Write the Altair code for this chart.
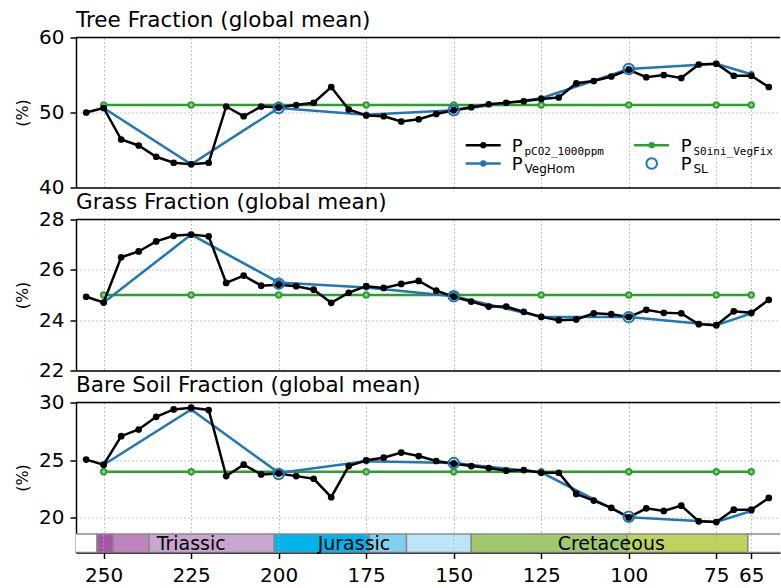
import altair as alt
import pandas as pd

# ---------------- data ----------------
ages_all = [255, 250, 245, 240, 235, 230, 225, 220, 215, 210, 205, 200, 195, 190,
            185, 180, 175, 170, 165, 160, 155, 150, 145, 140, 135, 130, 125, 120,
            115, 110, 105, 100, 95, 90, 85, 80, 75, 70, 65, 60]

tree_pco2 = [50.0, 50.6, 46.4, 45.6, 44.1, 43.3, 43.1, 43.3, 50.8, 49.5, 50.8, 50.7,
             51.0, 51.3, 53.4, 50.4, 49.6, 49.5, 48.8, 49.1, 49.8, 50.3, 50.7, 51.1,
             51.3, 51.5, 51.8, 52.0, 53.9, 54.2, 54.8, 55.7, 54.7, 55.0, 54.6, 56.4,
             56.5, 54.9, 54.9, 53.4]
grass_pco2 = [24.93, 24.70, 26.50, 26.73, 27.13, 27.35, 27.40, 27.33, 25.48, 25.77,
              25.37, 25.41, 25.35, 25.21, 24.69, 25.09, 25.35, 25.28, 25.44, 25.56,
              25.17, 24.93, 24.74, 24.54, 24.54, 24.33, 24.13, 24.00, 24.03, 24.27,
              24.24, 24.13, 24.41, 24.29, 24.27, 23.84, 23.80, 24.35, 24.29, 24.81]
bare_pco2 = [25.05, 24.61, 27.08, 27.66, 28.76, 29.40, 29.55, 29.35, 23.62, 24.61,
             23.77, 23.85, 23.62, 23.39, 21.79, 24.49, 24.99, 25.22, 25.66, 25.36,
             24.93, 24.70, 24.49, 24.32, 24.09, 24.14, 23.91, 23.91, 22.08, 21.50,
             20.86, 20.04, 20.83, 20.60, 21.06, 19.70, 19.64, 20.71, 20.71, 21.73]

ages_exp = [250, 225, 200, 175, 150, 125, 100, 75, 65]
tree_veghom = [50.6, 43.1, 50.6, 49.7, 50.3, 51.9, 55.8, 56.5, 55.1]
grass_veghom = [24.70, 27.40, 25.50, 25.30, 24.95, 24.13, 24.13, 23.80, 24.27]
bare_veghom = [24.6, 29.4, 23.9, 24.9, 24.75, 23.95, 20.05, 19.64, 20.6]

tree_vegfix = [51.0, 51.0, 51.0, 51.0, 51.0, 51.0, 51.0, 51.0, 51.0]
grass_vegfix = [25.0, 25.0, 25.0, 25.0, 25.0, 25.0, 25.0, 25.0, 25.0]
bare_vegfix = [24.0, 24.0, 24.0, 24.0, 24.0, 24.0, 24.0, 24.0, 24.0]

ages_sl = [200, 150, 100]
tree_sl = [50.6, 50.3, 55.8]
grass_sl = [25.45, 24.95, 24.12]
bare_sl = [23.8, 24.75, 20.1]

x_ticks = [250, 225, 200, 175, 150, 125, 100, 75, 65]

geo_start = [260, 251.9, 247.2, 237.0, 201.3, 174.1, 163.5, 145.0, 100.5, 66.0]
geo_end = [251.9, 247.2, 237.0, 201.3, 174.1, 163.5, 145.0, 100.5, 66.0, 50.0]
geo_color = ["#ffffff", "#a657a4", "#bd84bd", "#c9a6cf", "#00b4eb", "#80cfee",
             "#bde4f8", "#a0c86e", "#bdd35e", "#ffffff"]
geo_label = ["Triassic", "Jurassic", "Cretaceous"]
geo_label_age = [225, 178.5, 105]

# ---------------- styling ----------------
FONT = "DejaVu Sans"
MONO = "DejaVu Sans Mono"
BLACK = "#000000"
BLUE = "#1f77b4"
GREEN = "#2ca02c"
W = 704
XDOM = [257.9, 56.8]

one = alt.Data(values=[{"a": 1}])


def top_border(w):
    return alt.Chart(one).mark_rule(color="black", strokeWidth=1.5).encode(
        x=alt.value(0), x2=alt.value(w), y=alt.value(0))


def panel(title, pco2, veghom, vegfix, sl, ydom, yticks, h, bottom=False,
          extra_under=None, extra_over=None):
    xaxis = alt.Axis(values=x_ticks, title=None, labels=bottom, ticks=bottom,
                     domain=True, labelPadding=7, labelFlush=False)
    x = alt.X("age:Q", scale=alt.Scale(domain=XDOM, nice=False, zero=False), axis=xaxis)
    y = alt.Y("v:Q", scale=alt.Scale(domain=ydom, nice=False, zero=False),
              axis=alt.Axis(values=yticks, title="(%)", titlePadding=8, labelPadding=6))

    d_p = pd.DataFrame({"age": ages_all, "v": pco2})
    d_h = pd.DataFrame({"age": ages_exp, "v": veghom})
    d_f = pd.DataFrame({"age": ages_exp, "v": vegfix})
    d_s = pd.DataFrame({"age": ages_sl, "v": sl})

    layers = []
    if extra_under:
        layers += extra_under
    layers += [
        alt.Chart(d_f).mark_line(color=GREEN, strokeWidth=2.5).encode(x=x, y=y),
        alt.Chart(d_f).mark_point(filled=True, fill="#8fd18f", stroke=GREEN, strokeWidth=2,
                                  size=28, opacity=1).encode(x=x, y=y),
        alt.Chart(d_h).mark_line(color=BLUE, strokeWidth=2.5).encode(x=x, y=y),
        alt.Chart(d_h).mark_point(filled=True, color=BLUE, size=40, opacity=1).encode(x=x, y=y),
        alt.Chart(d_p).mark_line(color=BLACK, strokeWidth=2.5).encode(x=x, y=y),
        alt.Chart(d_p).mark_point(filled=True, color=BLACK, size=45, opacity=1).encode(x=x, y=y),
        alt.Chart(d_s).mark_point(filled=False, color=BLUE, strokeWidth=2, size=110,
                                  opacity=1).encode(x=x, y=y),
        top_border(W),
    ]
    if extra_over:
        layers += extra_over
    return alt.layer(*layers).properties(
        width=W, height=h,
        title=alt.TitleParams(title, anchor="start", frame="group"))


# ---------------- legend (tree panel) ----------------
def leg_line(x0, x1, yy, color):
    return alt.Chart(one).mark_rule(color=color, strokeWidth=2.5).encode(
        x=alt.value(x0), x2=alt.value(x1), y=alt.value(yy))


def leg_dot(xx, yy, color, size=40, filled=True, sw=1):
    return alt.Chart(one).mark_point(filled=filled, color=color, size=size, opacity=1,
                                     strokeWidth=sw).encode(x=alt.value(xx), y=alt.value(yy))


def leg_text(xx, yy, txt, font, fs):
    return alt.Chart(one).mark_text(text=txt, font=font, fontSize=fs, align="left",
                                    baseline="alphabetic", color="black").encode(
        x=alt.value(xx), y=alt.value(yy))


C1L, C1R, C1M, C1P, C1S = 389.7, 424.7, 407.3, 435.7, 448.5
C2L, C2R, C2M, C2P, C2S = 558.0, 593.0, 575.7, 604.7, 617.5
R1, R2 = 107.7, 126.0
PFS = 18
legend = [
    leg_line(C1L, C1R, R1, BLACK), leg_dot(C1M, R1, BLACK),
    leg_text(C1P, R1 + 6.5, "P", FONT, PFS), leg_text(C1S, R1 + 9.5, "pCO2_1000ppm", MONO, 11),
    leg_line(C1L, C1R, R2, BLUE), leg_dot(C1M, R2, BLUE),
    leg_text(C1P, R2 + 6.5, "P", FONT, PFS), leg_text(C1S, R2 + 9.5, "VegHom", FONT, 12),
    leg_line(C2L, C2R, R1, GREEN), leg_dot(C2M, R1, GREEN),
    leg_text(C2P, R1 + 6.5, "P", FONT, PFS), leg_text(C2S, R1 + 9.5, "S0ini_VegFix", MONO, 11),
    leg_dot(C2M, R2, BLUE, size=110, filled=False, sw=2),
    leg_text(C2P, R2 + 6.5, "P", FONT, PFS), leg_text(C2S, R2 + 9.5, "SL", FONT, 12),
]

# ---------------- geological time bar (bare soil panel) ----------------
GEO_LO, GEO_HI, GEO_TXT = 17.0, 18.6, 17.2
d_geo = pd.DataFrame({"start": geo_start, "end": geo_end, "color": geo_color})
d_geo_lab = pd.DataFrame({"age": geo_label_age, "label": geo_label})
d_ticks = pd.DataFrame({"age": x_ticks})
xs = alt.Scale(domain=XDOM, nice=False, zero=False)
ys = alt.Scale(domain=[17, 30], nice=False, zero=False)
geo_layers = [
    alt.Chart(d_geo).mark_rect(stroke="#8c8c8c", strokeWidth=1.5, clip=True).encode(
        x=alt.X("start:Q", scale=xs), x2="end:Q",
        y=alt.Y(datum=GEO_LO, scale=ys), y2=alt.Y2(datum=GEO_HI),
        fill=alt.Fill("color:N", scale=None)),
    alt.Chart(d_ticks).mark_rule(color="#b0b0b0", strokeDash=[1.5, 2.5], strokeWidth=1).encode(
        x=alt.X("age:Q", scale=xs), y=alt.Y(datum=GEO_LO, scale=ys), y2=alt.Y2(datum=GEO_HI)),
    alt.Chart(d_geo_lab).mark_text(font=FONT, fontSize=19, baseline="alphabetic",
                                   align="center", color="black").encode(
        x=alt.X("age:Q", scale=xs), y=alt.Y(datum=GEO_TXT, scale=ys), text="label:N"),
]

tree = panel("Tree Fraction (global mean)", tree_pco2, tree_veghom, tree_vegfix, tree_sl,
             [40, 60], [40, 50, 60], 150, extra_over=legend)
grass = panel("Grass Fraction (global mean)", grass_pco2, grass_veghom, grass_vegfix, grass_sl,
              [22, 28], [22, 24, 26, 28], 151)
bare = panel("Bare Soil Fraction (global mean)", bare_pco2, bare_veghom, bare_vegfix, bare_sl,
             [17, 30], [20, 25, 30], 150, bottom=True, extra_under=geo_layers)

chart = alt.vconcat(tree, grass, bare, spacing=-6).properties(
    padding={"left": 14, "top": 9.5, "right": 0, "bottom": 0}
).configure_view(strokeWidth=0).configure_axis(
    domainColor="black", domainWidth=1.5, tickColor="black", tickWidth=1.5, tickSize=6,
    labelFont=FONT, labelFontSize=20, labelColor="black",
    titleFont=FONT, titleFontSize=16, titleFontWeight="normal", titleColor="black",
    gridColor="#b0b0b0", gridDash=[1.5, 2.5], gridWidth=1, grid=True
).configure_title(font=FONT, fontSize=21.5, fontWeight="normal", color="black", offset=-4)

chart.save("out.html", embed_options={"renderer": "svg", "actions": False})
